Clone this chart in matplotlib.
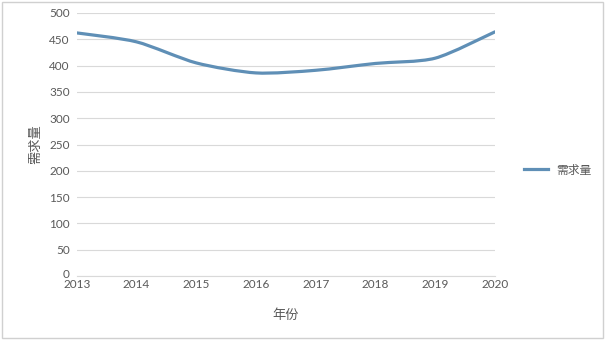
"""需求量 by year, smoothed line chart"""

import numpy as np
import matplotlib
matplotlib.use("Agg")
import matplotlib.pyplot as plt
from matplotlib.path import Path
from matplotlib.patches import PathPatch, Rectangle
from matplotlib.lines import Line2D
from matplotlib.transforms import ScaledTranslation

plt.rcParams['font.family'] = ['Lato', 'Noto Sans CJK SC', 'DejaVu Sans']

# data
years = [2013, 2014, 2015, 2016, 2017, 2018, 2019, 2020]
demand = [462, 445, 405, 386, 391, 404, 414, 464]
series_name = "需求量"
y_ticks = [0, 50, 100, 150, 200, 250, 300, 350, 400, 450, 500]

line_color = "#5f8fb6"
text_color = "#595959"
grid_color = "#d9d9d9"

fig = plt.figure(figsize=(6.05, 3.4), dpi=100)
ax = fig.add_axes([0.127, 0.188, 0.691, 0.774])

# smooth curve through the points (bezier, like Excel's smoothed line)
x = np.array(years, dtype=float)
y = np.array(demand, dtype=float)
k = 0.13  # tension
verts = [(x[0], y[0])]
codes = [Path.MOVETO]
for i in range(len(x) - 1):
    x0, y0 = (x[i - 1], y[i - 1]) if i > 0 else (x[i], y[i])
    x3, y3 = (x[i + 2], y[i + 2]) if i + 2 < len(x) else (x[i + 1], y[i + 1])
    c1 = (x[i] + (x[i + 1] - x0) * k, y[i] + (y[i + 1] - y0) * k)
    c2 = (x[i + 1] - (x3 - x[i]) * k, y[i + 1] - (y3 - y[i]) * k)
    verts += [c1, c2, (x[i + 1], y[i + 1])]
    codes += [Path.CURVE4] * 3
ax.add_patch(PathPatch(Path(verts, codes), facecolor="none", edgecolor=line_color,
                       lw=2.3, capstyle="round", joinstyle="round", zorder=3))

ax.set_xlim(2013, 2020)
ax.set_ylim(0, 500)
ax.set_xticks(years)
ax.set_yticks(y_ticks)
ax.grid(axis="y", color=grid_color, lw=0.8)
ax.set_axisbelow(True)
for s in ["top", "right", "left"]:
    ax.spines[s].set_visible(False)
ax.spines["bottom"].set_color(grid_color)
ax.tick_params(axis="both", length=0, colors=text_color, labelsize=8.5)
ax.tick_params(axis="y", pad=5)
ax.tick_params(axis="x", pad=2)

# the "0" label sits a little high, as in the original
lbl0 = ax.get_yticklabels()[0]
lbl0.set_transform(lbl0.get_transform() + ScaledTranslation(0, 2 / 72, fig.dpi_scale_trans))

ax.set_xlabel("年份", color=text_color, fontsize=9.5, labelpad=13)
ax.set_ylabel("需求量", color=text_color, fontsize=9.5, labelpad=6)

handle = Line2D([], [], color=line_color, lw=2.3)
fig.legend([handle], [series_name], loc="center left", bbox_to_anchor=(0.848, 0.5),
           frameon=False, fontsize=8.5, labelcolor=text_color, handlelength=2.1,
           handletextpad=0.7)

# thin border round the chart
fig.add_artist(Rectangle((0.003, 0.005), 0.994, 0.99, transform=fig.transFigure,
                         fill=False, edgecolor="#d0d0d0", lw=1))

fig.savefig("out.png", dpi=100)
